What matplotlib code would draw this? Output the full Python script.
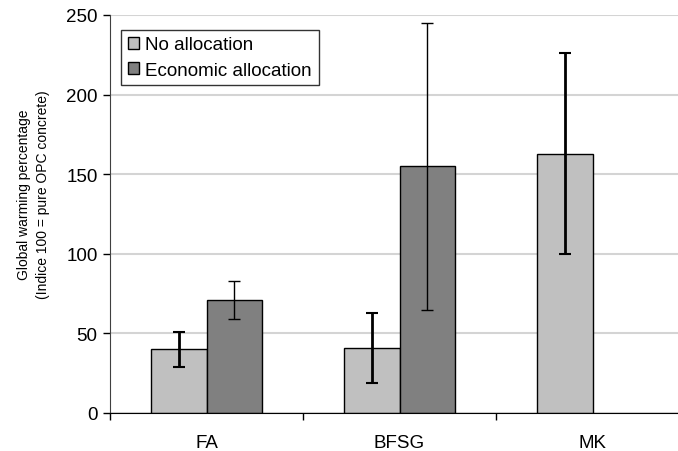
import numpy as np
import matplotlib
matplotlib.use("Agg")
import matplotlib.pyplot as plt
from matplotlib.ticker import FixedLocator

plt.rcParams['font.family'] = ['Liberation Sans', 'DejaVu Sans']

# data
categories = ['FA', 'BFSG', 'MK']
no_alloc = [40, 41, 163]
no_alloc_err = [11, 22, 63]
econ_alloc = [71, 155, np.nan]   # no economic allocation bar for MK
econ_alloc_err = [12, 90, np.nan]

fig = plt.figure(figsize=(6.78, 4.52), dpi=100)
ax = fig.add_axes([110 / 678, 38 / 452, 579 / 678, 398 / 452])

x = np.arange(len(categories)) + 0.5
w = 0.29

ax.bar(x - w / 2, no_alloc, w, color='#c0c0c0', edgecolor='black', linewidth=1,
       label='No allocation', zorder=2)
ax.errorbar(x - w / 2, no_alloc, yerr=no_alloc_err, fmt='none', ecolor='black',
            elinewidth=2, capsize=4, capthick=1.5, zorder=3)

econ = np.array(econ_alloc, dtype=float)
econ_err = np.array(econ_alloc_err, dtype=float)
ok = ~np.isnan(econ)
ax.bar(x[ok] + w / 2, econ[ok], w, color='#808080', edgecolor='black', linewidth=1,
       label='Economic allocation', zorder=2)
ax.errorbar(x[ok] + w / 2, econ[ok], yerr=econ_err[ok], fmt='none', ecolor='black',
            elinewidth=1, capsize=4, capthick=1, zorder=3)

ax.set_xlim(0, 3)
ax.set_ylim(0, 250)
ax.set_yticks([0, 50, 100, 150, 200, 250])
ax.yaxis.grid(True, color='#d4d4d4', linewidth=1.5, zorder=0)
ax.set_axisbelow(True)

ax.set_xticks(x)
ax.set_xticklabels(categories)
ax.xaxis.set_minor_locator(FixedLocator([0, 1, 2, 3]))
ax.tick_params(axis='x', which='major', length=0, pad=15, labelsize=13.5)
ax.tick_params(axis='x', which='minor', length=5, width=1, direction='out')
ax.tick_params(axis='y', length=5, width=1, pad=4, labelsize=13.5)

for s in ['top', 'right']:
    ax.spines[s].set_visible(False)
ax.spines['left'].set_color('#404040')
ax.spines['bottom'].set_color('black')

ax.set_ylabel('Global warming percentage\n(Indice 100 = pure OPC concrete)',
              fontsize=10, linespacing=1.45)
ax.yaxis.set_label_coords(-0.103, 0.55)

leg = ax.legend(loc='upper left', bbox_to_anchor=(0.019, 0.963), fontsize=13.5,
                frameon=True, fancybox=False, edgecolor='black', handlelength=0.6,
                handleheight=0.6, handletextpad=0.35, borderpad=0.35, labelspacing=0.45,
                borderaxespad=0)
leg.get_frame().set_linewidth(1)

fig.savefig('out.png', dpi=100)
